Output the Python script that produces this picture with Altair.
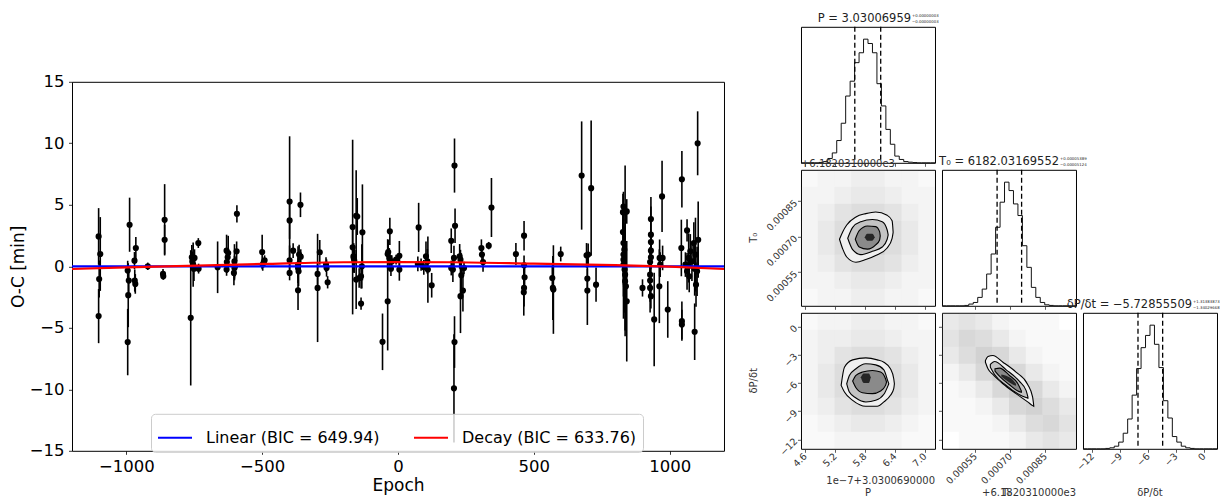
import altair as alt
import numpy as np
import pandas as pd

FONT = "DejaVu Sans"

# ------------------------------------------------------------------ O-C data
EPOCH = (
    [-1102, -1096, -1100, -1102]
    + [-988, -995, -991, -993, -995, -969, -967, -970, -965, -921]
    + [-859, -859, -865, -864]
    + [-763, -759, -757, -754, -751, -749, -735, -734, -664]
    + [-631, -627, -625, -631, -630, -602, -602, -604, -600, -594, -593]
    + [-500, -498, -491, -494]
    + [-399, -399, -399, -399, -386, -368, -368, -366, -368, -359, -358, -364]
    + [-296, -296, -288, -265, -263, -259]
    + [-167, -167, -164, -161, -163, -154, -150, -154, -143, -136, -133, -131, -136]
    + [-57, -38, -38, -36, -32, -30, -26, -23, -7, 5, 5]
    + [76, 73, 85, 95, 103, 108, 110, 124]
    + [196, 196, 202, 208, 210, 206, 208, 206, 227, 230, 233, 230, 239, 243]
    + [307, 309, 313, 334, 344]
    + [434, 464, 464, 466, 464, 463]
    + [568, 570, 572, 599, 676, 694, 697, 697, 700, 711, 729]
    + [828, 830, 836, 842, 828, 830, 833, 830, 830, 830, 834, 836, 836, 839, 842, 900]
    + [931, 931, 931, 931, 931, 928, 928, 928, 928, 931, 943, 963, 965, 962, 972, 974, 993]
    + [1045, 1043, 1045, 1045, 1064, 1058, 1064, 1070, 1072, 1076, 1082, 1089, 1092, 1095, 1097, 1101, 1105, 1092, 1103]
)
OC = (
    [2.43, 1.0, -1.03, -4.05]
    + [3.38, -0.35, -1.16, -2.35, -6.16, -1.16, -1.43, 0.46, 1.49, 0.0]
    + [3.78, 2.16, -0.62, -0.8]
    + [-4.19, 0.73, 0.4, 0.13, -0.19, 0.68, 1.89, -0.19, -0.08]
    + [1.27, 0.73, 1.08, -0.27, 0.35, 0.4, -0.14, -0.54, 0.0, 1.22, 4.27]
    + [1.16, 0.14, 0.49, 0.35]
    + [5.27, 3.73, 0.49, -0.54, 1.27, 0.14, -0.14, -0.41, -1.95, 5.0, 0.78, 0.95]
    + [-0.62, -1.76, 1.14, 0.14, -0.14, -1.3]
    + [3.19, 1.54, 0.81, 0.46, 0.68, 4.11, 4.05, -1.08, -0.95, -0.81, 0.0, 2.76, -3.03]
    + [-6.14, -2.84, 1.0, 1.16, 0.68, 2.84, -0.19, 0.4, 0.54, 0.86, -0.27]
    + [3.16, 0.19, 0.14, -0.08, 0.81, 0.4, -0.27, -1.54]
    + [2.08, -0.14, -0.27, 8.19, 3.3, 0.68, -6.16, -9.92, 0.81, 0.54, -0.73, -2.43, -1.97, -0.14]
    + [1.49, 0.95, 0.35, 1.68, 4.78]
    + [1.0, 2.49, 0.08, -0.89, -1.76, -2.11]
    + [-0.95, -1.76, -1.89, 1.0, 7.38, 0.89, -1.0, -1.97, 0.95, 6.35, -1.49]
    + [4.4, 4.86, 4.4, 4.46, 2.78, 1.89, 1.35, 0.95, 0.54, 0.14, -0.27, -0.68, -1.22, -1.62, -2.84, -1.76]
    + [3.84, 2.57, 1.97, 1.27, 0.73, 0.35, -0.68, -1.16, -1.76, -2.43, -4.32, 0.68, 0.14, -1.62, 5.68, 0.68, -3.51]
    + [7.08, 1.49, -4.46, -4.73, 2.92, 0.14, -0.41, 0.68, -0.81, 1.22, 0.4, 1.89, -0.19, 0.95, -1.49, -0.41, 2.16, -5.32, 10.0]
)
OC_ERR = (
    [2.3, 3.0, 1.5, 2.2]
    + [2.2, 0.8, 1.0, 2.6, 2.7, 0.9, 0.8, 0.7, 0.9, 0.3]
    + [2.9, 1.2, 0.4, 0.3]
    + [5.5, 1.0, 0.8, 1.8, 1.0, 0.7, 0.4, 0.4, 2.1]
    + [1.3, 0.6, 1.4, 0.5, 0.9, 1.4, 1.0, 1.0, 0.8, 0.8, 0.7]
    + [1.4, 0.5, 0.4, 0.3]
    + [5.3, 1.5, 1.2, 0.6, 0.6, 1.5, 0.8, 1.2, 1.6, 1.0, 0.6, 0.8]
    + [0.9, 4.4, 1.0, 0.6, 0.7, 0.5]
    + [7.1, 1.4, 0.9, 1.0, 1.2, 3.7, 1.5, 2.4, 0.8, 1.0, 1.8, 3.9, 0.5]
    + [2.3, 4.0, 1.2, 1.0, 0.8, 1.1, 0.6, 0.5, 0.4, 1.2, 0.9]
    + [2.0, 0.6, 0.5, 0.6, 1.2, 1.0, 2.7, 1.0]
    + [1.0, 0.6, 1.0, 2.2, 1.4, 1.0, 2.1, 4.4, 1.0, 0.8, 1.8, 3.0, 1.7, 0.5]
    + [0.7, 0.6, 0.8, 0.3, 2.4]
    + [0.9, 1.2, 0.8, 1.2, 1.5, 1.9]
    + [1.0, 2.6, 3.6, 0.6, 4.4, 1.0, 0.8, 2.8, 0.9, 5.5, 1.4]
    + [1.5, 1.2, 3.8, 1.0, 2.2, 2.0, 1.8, 2.5, 3.0, 4.4, 3.5, 5.0, 4.0, 2.5, 4.9, 0.7]
    + [1.8, 2.3, 1.0, 1.5, 2.0, 1.2, 2.2, 1.5, 2.0, 1.0, 3.8, 1.5, 1.0, 3.0, 2.9, 1.0, 2.3]
    + [2.3, 2.3, 1.6, 1.2, 0.9, 1.0, 1.5, 2.0, 1.3, 1.4, 1.6, 1.7, 2.2, 3.0, 1.8, 2.0, 3.1, 2.3, 2.6]
)

MODEL_NAMES = ["Linear (BIC = 649.94)", "Decay (BIC = 633.76)"]
MODEL_COLORS = ["#0000ff", "#ff0000"]
LINEAR_EPOCH = [-1200, 1200]
LINEAR_OC = [0.0, 0.0]
DECAY_EPOCH = [-1200, -1000, -500, -200, 0, 200, 500, 800, 1000, 1200]
DECAY_OC = [-0.22, -0.08, 0.19, 0.33, 0.34, 0.33, 0.22, 0.10, -0.03, -0.22]

X_TICKS = [-1000, -500, 0, 500, 1000]
Y_TICKS = [-15, -10, -5, 0, 5, 10, 15]

# ------------------------------------------------------------------ corner data
P_RANGE = [4.52, 7.21]
T_RANGE = [0.000408, 0.000982]
D_RANGE = [-13.0, 1.45]
P_TICKS = [4.6, 5.2, 5.8, 6.4, 7.0]
T_TICKS = [0.00055, 0.00070, 0.00085]
D_TICKS = [-12, -9, -6, -3, 0]

P_HIST = [0, 0, 0, 0, 0.003, 0.01, 0.035, 0.08, 0.18, 0.32, 0.54, 0.66, 0.81, 0.89, 1.0,
          0.965, 0.89, 0.64, 0.46, 0.27, 0.15, 0.054, 0.027, 0.01, 0.005, 0.002, 0, 0, 0, 0]
T_HIST = [0, 0, 0, 0, 0, 0.003, 0.014, 0.027, 0.068, 0.135, 0.257, 0.419, 0.635, 0.838, 1.0,
          0.932, 0.824, 0.73, 0.486, 0.311, 0.149, 0.068, 0.027, 0.008, 0.003, 0, 0, 0, 0, 0]
D_HIST = [0, 0, 0, 0, 0, 0.003, 0.008, 0.021, 0.054, 0.126, 0.241, 0.434, 0.649, 0.818, 0.917,
          1.0, 0.845, 0.657, 0.389, 0.249, 0.099, 0.054, 0.021, 0.008, 0.003, 0, 0, 0, 0, 0]
P_QUANT = [5.60, 6.12]
T_QUANT = [0.000644, 0.000749]
D_QUANT = [-7.07, -4.41]

# scatter-cloud density (rows top->bottom, cols left->right), 0..9
HAZE_21 = [
    [1, 2, 2, 3, 3, 2, 2, 1],
    [2, 2, 3, 4, 4, 3, 2, 2],
    [2, 3, 5, 6, 6, 5, 3, 2],
    [2, 4, 6, 8, 8, 6, 4, 2],
    [2, 4, 6, 8, 8, 6, 4, 2],
    [2, 3, 5, 6, 6, 5, 3, 2],
    [2, 2, 3, 4, 4, 3, 2, 2],
    [1, 2, 2, 3, 3, 2, 2, 1],
]
HAZE_31 = [
    [1, 2, 2, 3, 3, 2, 2, 1],
    [2, 3, 3, 4, 4, 3, 2, 2],
    [2, 3, 5, 6, 6, 5, 3, 2],
    [2, 4, 6, 8, 8, 6, 4, 2],
    [2, 4, 6, 8, 8, 6, 4, 2],
    [2, 3, 5, 6, 6, 5, 3, 2],
    [1, 2, 3, 4, 4, 3, 2, 1],
    [1, 1, 2, 2, 2, 2, 1, 1],
]
HAZE_32 = [
    [4, 5, 4, 2, 1, 1, 1, 0],
    [5, 7, 6, 4, 2, 1, 1, 1],
    [4, 6, 8, 7, 4, 2, 1, 1],
    [2, 4, 7, 9, 7, 4, 2, 1],
    [1, 2, 4, 7, 9, 7, 4, 2],
    [1, 1, 2, 4, 7, 8, 6, 4],
    [1, 1, 1, 2, 4, 6, 7, 5],
    [0, 1, 1, 1, 2, 4, 5, 4],
]

# contour levels: x, upper edge, lower edge
C21_OUT_X = [5.293, 5.359, 5.438, 5.623, 5.821, 6.019, 6.250, 6.349, 6.369]
C21_OUT_TOP = [0.000689, 0.000721, 0.000749, 0.000783, 0.000797, 0.000804, 0.000790, 0.000767, 0.000721]
C21_OUT_BOT = [0.000689, 0.000647, 0.000614, 0.000592, 0.000603, 0.000620, 0.000652, 0.000693, 0.000717]
C21_MID_X = [5.458, 5.557, 5.722, 5.953, 6.151, 6.250, 6.270]
C21_MID_TOP = [0.000693, 0.000739, 0.000763, 0.000772, 0.000763, 0.000728, 0.000707]
C21_MID_BOT = [0.000693, 0.000645, 0.000624, 0.000638, 0.000656, 0.000689, 0.000707]
C21_IN_X = [5.610, 5.689, 5.854, 6.019, 6.098, 6.111]
C21_IN_TOP = [0.000689, 0.000725, 0.000745, 0.000742, 0.000721, 0.000703]
C21_IN_BOT = [0.000689, 0.000656, 0.000647, 0.000665, 0.000686, 0.000703]
C21_CORE_X = [5.80, 5.85, 5.95, 6.00]
C21_CORE_TOP = [0.000697, 0.000712, 0.000712, 0.000697]
C21_CORE_BOT = [0.000697, 0.000683, 0.000683, 0.000697]

C31_OUT_X = [5.326, 5.392, 5.557, 5.821, 6.052, 6.184, 6.316, 6.382, 6.395]
C31_OUT_TOP = [-6.26, -4.33, -3.55, -3.34, -3.55, -3.80, -4.50, -5.56, -6.09]
C31_OUT_BOT = [-6.26, -6.97, -7.85, -8.48, -8.48, -8.02, -7.32, -6.61, -6.09]
C31_MID_X = [5.438, 5.491, 5.623, 5.821, 6.019, 6.184, 6.270, 6.283]
C31_MID_TOP = [-6.09, -5.21, -4.50, -3.97, -4.08, -4.61, -5.91, -6.09]
C31_MID_BOT = [-6.09, -6.97, -7.60, -8.02, -7.85, -7.21, -6.26, -6.09]
C31_IN_X = [5.557, 5.623, 5.755, 5.953, 6.118, 6.217, 6.237]
C31_IN_TOP = [-5.80, -5.21, -4.85, -4.68, -4.85, -5.56, -5.91]
C31_IN_BOT = [-5.80, -6.51, -7.04, -7.14, -6.86, -6.26, -5.91]
C31_CORE_X = [5.72, 5.78, 5.88, 5.92]
C31_CORE_TOP = [-5.40, -5.00, -5.00, -5.40]
C31_CORE_BOT = [-5.40, -6.00, -6.00, -5.40]

C32_OUT_X = [0.000594, 0.000605, 0.000626, 0.000669, 0.000725, 0.000775, 0.000796, 0.000801]
C32_OUT_TOP = [-3.62, -3.20, -3.09, -3.80, -4.85, -6.16, -7.49, -8.41]
C32_OUT_BOT = [-3.80, -4.50, -5.10, -6.09, -7.14, -8.02, -8.41, -8.48]
C32_MID_X = [0.000615, 0.000633, 0.000683, 0.000740, 0.000768, 0.000776]
C32_MID_TOP = [-4.04, -3.73, -4.61, -5.84, -6.79, -7.49]
C32_MID_BOT = [-4.33, -5.10, -6.26, -7.25, -7.56, -7.63]
C32_IN_X = [0.000635, 0.000655, 0.000697, 0.000733, 0.000748]
C32_IN_TOP = [-4.50, -4.43, -5.21, -6.09, -6.86]
C32_IN_BOT = [-4.75, -5.31, -6.19, -6.86, -7.00]
C32_CORE_X = [0.000662, 0.000683, 0.000711, 0.000725]
C32_CORE_TOP = [-5.10, -5.24, -5.66, -6.09]
C32_CORE_BOT = [-5.31, -5.73, -6.16, -6.30]

LEVEL_FILLS = ["#f0f0f0", "#c4c4c4", "#8a8a8a", "#262626"]

TITLE_P = ["P = 3.03006959", "+0.00000003", "\u22120.00000003"]
TITLE_T = ["T\u2080 = 6182.03169552", "+0.00005389", "\u22120.00005124"]
TITLE_D = ["\u03b4P/\u03b4t = \u22125.72855509", "+1.31383873", "\u22121.34029668"]

PWX = 134   # corner panel width
PH = 136    # corner panel height
GAP = 7
LBL = "#333333"

# ------------------------------------------------------------------ left panel
oc_df = pd.DataFrame({"epoch": EPOCH, "oc": OC, "err": OC_ERR})
oc_df["lo"] = oc_df["oc"] - oc_df["err"]
oc_df["hi"] = oc_df["oc"] + oc_df["err"]

line_df = pd.concat([
    pd.DataFrame({"epoch": LINEAR_EPOCH, "oc": LINEAR_OC, "model": MODEL_NAMES[0]}),
    pd.DataFrame({"epoch": DECAY_EPOCH, "oc": DECAY_OC, "model": MODEL_NAMES[1]}),
], ignore_index=True)

xsc = alt.Scale(domain=[-1200, 1200], nice=False, zero=False)
ysc = alt.Scale(domain=[-15, 15], nice=False, zero=False)
x_ax = alt.Axis(values=X_TICKS, format="d", title="Epoch", titleFont=FONT, titleFontSize=17,
                titleFontWeight="normal", titleColor="black", titleY=40, titleBaseline="alphabetic",
                labelFont=FONT, labelFontSize=16.5, labelColor="black", labelPadding=4,
                labelFlush=False, tickSize=3.5, tickWidth=0.8, tickColor="black",
                domain=False, grid=False)
y_ax = alt.Axis(values=Y_TICKS, format="d", title="O-C [min]", titleFont=FONT, titleFontSize=17,
                titleFontWeight="normal", titleColor="black", titleX=-48.5, titleY=184.5,
                titleAngle=270, titleAlign="center", titleBaseline="alphabetic",
                labelFont=FONT, labelFontSize=16.5, labelColor="black", labelPadding=4.5,
                tickSize=3.5, tickWidth=0.8, tickColor="black", domain=False, grid=False)

bars = alt.Chart(oc_df).mark_rule(color="black", strokeWidth=1.6).encode(
    x=alt.X("epoch:Q", scale=xsc, axis=x_ax),
    y=alt.Y("lo:Q", scale=ysc, axis=y_ax),
    y2="hi:Q",
)
pts = alt.Chart(oc_df).mark_circle(size=38, color="black", opacity=1).encode(
    x=alt.X("epoch:Q", scale=xsc, axis=x_ax),
    y=alt.Y("oc:Q", scale=ysc, axis=y_ax),
)
model_lines = alt.Chart(line_df).mark_line(strokeWidth=2.2, interpolate="monotone").encode(
    x=alt.X("epoch:Q", scale=xsc, axis=x_ax),
    y=alt.Y("oc:Q", scale=ysc, axis=y_ax),
    color=alt.Color(
        "model:N",
        scale=alt.Scale(domain=MODEL_NAMES, range=MODEL_COLORS),
        legend=alt.Legend(
            title=None, orient="none", legendX=79, legendY=332, direction="horizontal",
            columns=2, symbolType="stroke", symbolSize=1156, symbolStrokeWidth=2,
            labelFont=FONT, labelFontSize=16, labelColor="black", labelOffset=13,
            labelLimit=400, columnPadding=30, padding=6,
            fillColor="rgba(255,255,255,0.8)", strokeColor="#cccccc", cornerRadius=4,
        ),
    ),
)
left = alt.layer(bars, pts, model_lines).properties(width=652, height=369)

spacer = alt.Chart(pd.DataFrame({"s": [0]})).mark_point(opacity=0).encode(
    x=alt.X("s:Q", axis=None), y=alt.Y("s:Q", axis=None)
).properties(width=652, height=55, view=alt.ViewBackground(stroke="transparent"))

left_group = alt.vconcat(spacer, left, spacing=0, bounds="flush").resolve_scale(
    color="independent")


# ------------------------------------------------------------------ corner helpers
def cax(values, labels, fmt=None):
    kw = dict(values=values, labels=labels, ticks=True, tickSize=3.5, tickWidth=0.8,
              tickColor=LBL, domain=False, grid=False, title=None, labelFont=FONT,
              labelFontSize=9.5, labelColor=LBL, labelAngle=315, labelAlign="right",
              labelBaseline="middle", labelPadding=2, labelOverlap=False,
              labelFlush=False, labelBound=False)
    if fmt is not None:
        kw["format"] = fmt
    return alt.Axis(**kw)


def txt(s, x, y, size=10, align="left", angle=0, color=LBL):
    kw = dict(font=FONT, fontSize=size, align=align, baseline="alphabetic", color=color)
    if angle:
        kw["angle"] = angle
    return alt.Chart(pd.DataFrame({"t": [s]})).mark_text(**kw).encode(
        text="t:N", x=alt.value(x), y=alt.value(y))


def title_layers(parts, xr):
    return [
        txt(parts[0], xr, -5, size=11.5, align="right", color="#222222"),
        txt(parts[1], xr + 1, -9.5, size=3.9, color="#222222"),
        txt(parts[2], xr + 1, -4, size=3.9, color="#222222"),
    ]


def hist_panel(rng, counts, quant, axis_x, extra):
    edges = np.linspace(rng[0], rng[1], len(counts) + 1)
    d = pd.DataFrame({"x": edges, "n": list(counts) + [counts[-1]]})
    xs = alt.Scale(domain=rng, nice=False, zero=False)
    step = alt.Chart(d).mark_line(interpolate="step-after", color="#111111", strokeWidth=1).encode(
        x=alt.X("x:Q", scale=xs, axis=axis_x),
        y=alt.Y("n:Q", scale=alt.Scale(domain=[0, 1.1], nice=False, zero=False), axis=None),
    )
    q = alt.Chart(pd.DataFrame({"q": quant})).mark_rule(
        color="black", strokeDash=[5, 3], strokeWidth=1.3).encode(
        x=alt.X("q:Q", scale=xs, axis=axis_x))
    return alt.layer(step, q, *extra).properties(width=PWX, height=PH)


def panel2d(grid, xr, yr, axis_x, axis_y, levels, extra):
    xs = alt.Scale(domain=xr, nice=False, zero=False)
    ys = alt.Scale(domain=yr, nice=False, zero=False)
    nr, nc = len(grid), len(grid[0])
    xe = np.linspace(xr[0], xr[1], nc + 1)
    ye = np.linspace(yr[1], yr[0], nr + 1)
    recs = []
    for i in range(nr):
        for j in range(nc):
            recs.append({"x": xe[j], "x2": xe[j + 1], "y": ye[i + 1], "y2": ye[i],
                         "v": grid[i][j]})
    haze = alt.Chart(pd.DataFrame(recs)).mark_rect(color="#7a7a7a").encode(
        x=alt.X("x:Q", scale=xs, axis=axis_x), x2="x2:Q",
        y=alt.Y("y:Q", scale=ys, axis=axis_y), y2="y2:Q",
        opacity=alt.Opacity("v:Q", scale=alt.Scale(domain=[0, 9], range=[0, 0.38]), legend=None),
    )
    layers = [haze]
    for k, (cx, ct, cb) in enumerate(levels):
        d = pd.DataFrame({"x": cx, "top": ct, "bot": cb})
        if k < 3:
            mk = alt.Chart(d).mark_area(fill=LEVEL_FILLS[k], stroke="black", strokeWidth=1.1,
                                        interpolate="monotone", opacity=1)
        else:
            mk = alt.Chart(d).mark_area(fill=LEVEL_FILLS[k], strokeWidth=0,
                                        interpolate="monotone", opacity=1)
        layers.append(mk.encode(
            x=alt.X("x:Q", scale=xs, axis=axis_x),
            y=alt.Y("top:Q", scale=ys, axis=axis_y),
            y2="bot:Q"))
    return alt.layer(*layers, *extra).properties(width=PWX, height=PH)


def blank():
    return alt.Chart(pd.DataFrame({"s": [0]})).mark_point(opacity=0).encode(
        x=alt.X("s:Q", axis=None), y=alt.Y("s:Q", axis=None)
    ).properties(width=PWX, height=PH, view=alt.ViewBackground(stroke="transparent"))


OFFSET_T = "+6.1820310000e3"
MIDX = PWX / 2

p11 = hist_panel(P_RANGE, P_HIST, P_QUANT, cax(P_TICKS, False), title_layers(TITLE_P, 110))
p22 = hist_panel(T_RANGE, T_HIST, T_QUANT, cax(T_TICKS, False), title_layers(TITLE_T, 117))
p33 = hist_panel(D_RANGE, D_HIST, D_QUANT, cax(D_TICKS, True, "d"),
                 title_layers(TITLE_D, 109) + [txt("\u03b4P/\u03b4t", MIDX, 183, align="center")])

p21 = panel2d(
    HAZE_21, P_RANGE, T_RANGE, cax(P_TICKS, False), cax(T_TICKS, True, ".5f"),
    [(C21_OUT_X, C21_OUT_TOP, C21_OUT_BOT), (C21_MID_X, C21_MID_TOP, C21_MID_BOT),
     (C21_IN_X, C21_IN_TOP, C21_IN_BOT), (C21_CORE_X, C21_CORE_TOP, C21_CORE_BOT)],
    [txt(OFFSET_T, 0, -3), txt("T\u2080", -44, PH / 2, align="center", angle=270)],
)
p31 = panel2d(
    HAZE_31, P_RANGE, D_RANGE, cax(P_TICKS, True, ".1f"), cax(D_TICKS, True, "d"),
    [(C31_OUT_X, C31_OUT_TOP, C31_OUT_BOT), (C31_MID_X, C31_MID_TOP, C31_MID_BOT),
     (C31_IN_X, C31_IN_TOP, C31_IN_BOT), (C31_CORE_X, C31_CORE_TOP, C31_CORE_BOT)],
    [txt("1e\u22127+3.0300690000", PWX, 171, align="right"),
     txt("P", MIDX, 183, align="center"),
     txt("\u03b4P/\u03b4t", -44, PH / 2, align="center", angle=270)],
)
p32 = panel2d(
    HAZE_32, T_RANGE, D_RANGE, cax(T_TICKS, True, ".5f"), cax(D_TICKS, False),
    [(C32_OUT_X, C32_OUT_TOP, C32_OUT_BOT), (C32_MID_X, C32_MID_TOP, C32_MID_BOT),
     (C32_IN_X, C32_IN_TOP, C32_IN_BOT), (C32_CORE_X, C32_CORE_TOP, C32_CORE_BOT)],
    [txt(OFFSET_T, PWX, 183, align="right"), txt("T\u2080", MIDX - 2, 183, align="center")],
)

corner = alt.concat(
    p11, blank(), blank(),
    p21, p22, blank(),
    p31, p32, p33,
    columns=3, spacing=GAP, bounds="flush",
)

chart = alt.hconcat(left_group, corner, spacing=19).resolve_scale(color="independent").properties(
    padding={"left": 1, "top": 3.8, "right": 0, "bottom": 0}
).configure(font=FONT).configure_view(stroke="black", strokeWidth=1)

chart.save("out.html", embed_options={"renderer": "svg", "actions": False})
